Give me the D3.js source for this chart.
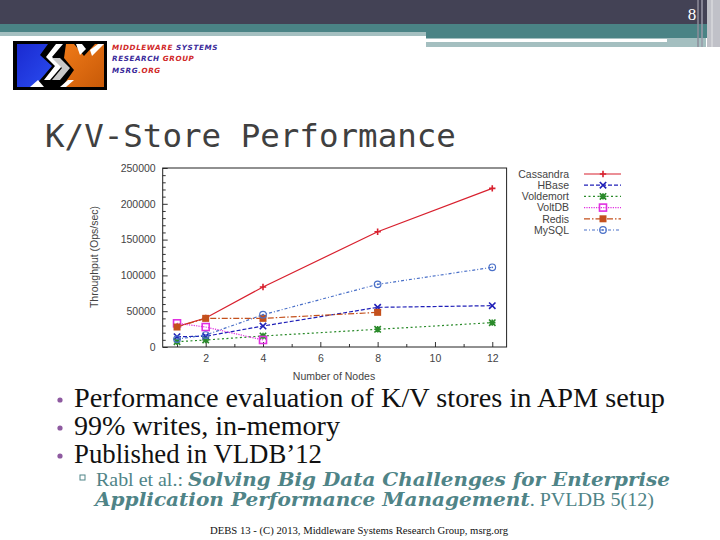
<!DOCTYPE html>
<html><head><meta charset="utf-8">
<script src="https://cdn.jsdelivr.net/npm/d3@7"></script>
<style>body{margin:0;background:#fff}svg{display:block}</style>
</head><body>
<script>
// ---- data ----
const nodes = [1, 2, 4, 8, 12];
const cassandra = [28400, 40500, 83800, 161000, 221600];
const hbase = [14400, 15000, 29300, 55400, 57700];
const voldemort = [7400, 9800, 15400, 24700, 34000];
const voltdb = [33100, 27900, 9800];
const redis = [27900, 40000, 40000, 48400];
const mysql = [11000, 16700, 45100, 87500, 111300];
const seriesNames = ["Cassandra", "HBase", "Voldemort", "VoltDB", "Redis", "MySQL"];
const xTicks = [2, 4, 6, 8, 10, 12];
const xMinor = [1, 3, 5, 7, 9, 11];
const yTicks = [0, 50000, 100000, 150000, 200000, 250000];

const W = 720, H = 540;
const svg = d3.select("body").append("svg").attr("width", W).attr("height", H);

// ---- slide decoration ----
svg.append("rect").attr("x",0).attr("y",0).attr("width",W).attr("height",24).attr("fill","#434255");
svg.append("rect").attr("x",0).attr("y",24).attr("width",W).attr("height",8).attr("fill","#4a8385");
svg.append("rect").attr("x",0).attr("y",32).attr("width",426).attr("height",4).attr("fill","#a4bfc0");
svg.append("rect").attr("x",426).attr("y",32).attr("width",294).attr("height",6).attr("fill","#4a8385");
svg.append("rect").attr("x",426).attr("y",38).attr("width",280).attr("height",9).attr("fill","#a4bfc0");
svg.append("rect").attr("x",426).attr("y",39).attr("width",241).attr("height",3).attr("fill","#ffffff");
svg.append("rect").attr("x",707).attr("y",0).attr("width",13).attr("height",47).attr("fill","#c0c1c8");
[[698,"#8c8c9a"],[702,"#9a9aa8"],[712,"#d8d8dc"]].forEach(([x,c])=>{
  svg.append("line").attr("x1",x).attr("x2",x).attr("y1",0).attr("y2",47).attr("stroke",c).attr("stroke-width",1.5);
});
svg.append("text").attr("x",692).attr("y",20).attr("text-anchor","middle")
  .attr("font-family","Liberation Serif").attr("font-size",17).attr("fill","#ffffff").text("8");

// ---- logo ----
const defs = svg.append("defs");
const gb = defs.append("linearGradient").attr("id","gb").attr("x1","0").attr("x2","1").attr("y1","0").attr("y2","1");
gb.append("stop").attr("offset","0").attr("stop-color","#1a2ad0");
gb.append("stop").attr("offset","1").attr("stop-color","#2a4cf0");
const go = defs.append("linearGradient").attr("id","go").attr("x1","0").attr("x2","1").attr("y1","0").attr("y2","1");
go.append("stop").attr("offset","0").attr("stop-color","#f07a18");
go.append("stop").attr("offset","1").attr("stop-color","#c85a08");
const lg = svg.append("g");
lg.append("rect").attr("x",13).attr("y",41).attr("width",94).attr("height",49).attr("fill","#000");
lg.append("polygon").attr("points","17,44 48,44 40,55 52,66 40,80 33,87 17,87").attr("fill","url(#gb)");
lg.append("polygon").attr("points","56,44 63,44 52,57 62,66 50,80 44,80 55,66 46,57").attr("fill","#fff");
lg.append("polygon").attr("points","30,87 38,80 44,87").attr("fill","#fff");
lg.append("polygon").attr("points","52,58 60,58 70,68 60,80 52,80 62,68").attr("fill","#c8c8c8");
lg.append("polygon").attr("points","66,44 74,44 84,56 95,44 104,44 104,87 62,87 74,70 64,58").attr("fill","url(#go)");
lg.append("polygon").attr("points","76,44 82,44 86,49 80,55").attr("fill","#fff");
lg.append("polygon").attr("points","90,50 98,44 104,44 92,56").attr("fill","#fff");
lg.append("polygon").attr("points","60,87 68,80 74,80 66,87").attr("fill","#fff");
const logoLines = [
  [["MIDDLEWARE ","#d02828"],["SYSTEMS","#3a2a9a"]],
  [["RESEARCH ","#3a2a9a"],["GROUP","#d02828"]],
  [["MSRG","#3a2a9a"],[".ORG","#d02828"]]
];
logoLines.forEach((parts,i)=>{
  const t = svg.append("text").attr("x",112).attr("y",50+i*11.3)
    .attr("font-family","DejaVu Sans").attr("font-size",7.2).attr("font-weight","bold")
    .attr("font-style","italic").attr("letter-spacing",0.6);
  parts.forEach(([s,c])=>t.append("tspan").attr("fill",c).text(s));
});

// ---- title ----
svg.append("text").attr("x",45).attr("y",147).attr("font-family","DejaVu Sans Mono")
  .attr("font-size",32.5).attr("fill","#404040").text("K/V-Store Performance");

// ---- chart ----
const x = d3.scaleLinear().domain([0.5, 12.5]).range([162.7, 506.6]);
const y = d3.scaleLinear().domain([0, 250000]).range([347, 168]);
const chartFont = "Liberation Sans";

const gx = svg.append("g").attr("transform",`translate(0,${y(0)})`)
  .call(d3.axisBottom(x).tickValues(xTicks).tickSize(-5).tickSizeOuter(0).tickPadding(8).tickFormat(d3.format("d")));
const gxm = svg.append("g").attr("transform",`translate(0,${y(0)})`)
  .call(d3.axisBottom(x).tickValues(xMinor).tickSize(-3).tickSizeOuter(0).tickFormat(""));
const gy = svg.append("g").attr("transform",`translate(${x(0.5)},0)`)
  .call(d3.axisLeft(y).tickValues(yTicks).tickSize(-5).tickSizeOuter(0).tickPadding(7).tickFormat(d3.format("d")));
const gym = svg.append("g").attr("transform",`translate(${x(0.5)},0)`)
  .call(d3.axisLeft(y).tickValues(d3.range(10000, 250000, 10000).filter(v=>v%50000)).tickSize(-3).tickSizeOuter(0).tickFormat(""));
[gx,gxm,gy,gym].forEach(g=>{
  g.select(".domain").remove();
  g.selectAll("line").attr("stroke","#333");
  g.selectAll("text").attr("font-family",chartFont).attr("font-size",10.5).attr("fill","#444");
});
svg.append("rect").attr("x",x(0.5)).attr("y",y(250000)).attr("width",x(12.5)-x(0.5)).attr("height",y(0)-y(250000))
  .attr("fill","none").attr("stroke","#222").attr("stroke-width",1);

svg.append("text").attr("x",334).attr("y",380).attr("text-anchor","middle")
  .attr("font-family",chartFont).attr("font-size",10.5).attr("fill","#444").text("Number of Nodes");
svg.append("text").attr("transform","translate(98,257) rotate(-90)").attr("text-anchor","middle")
  .attr("font-family",chartFont).attr("font-size",10.5).attr("fill","#444").text("Throughput (Ops/sec)");

const seriesValues = [cassandra, hbase, voldemort, voltdb, redis, mysql];
const colors = ["#d8202e", "#2020b8", "#2a8a2a", "#e030e0", "#c4501c", "#4a70c8"];
const dashes = [null, "4,2", "2,2.5", "1.2,1.2", "6,2,1.5,2", "3,2,1,2"];
const markers = ["plus", "cross", "star", "osquare", "fsquare", "ocircle"];

function drawMarker(g, type, cx, cy, c) {
  const s = 3.2;
  if (type === "plus") {
    g.append("path").attr("d",`M${cx-s},${cy}H${cx+s}M${cx},${cy-s}V${cy+s}`).attr("stroke",c).attr("stroke-width",1.6).attr("fill","none");
  } else if (type === "cross") {
    g.append("path").attr("d",`M${cx-s},${cy-s}L${cx+s},${cy+s}M${cx-s},${cy+s}L${cx+s},${cy-s}`).attr("stroke",c).attr("stroke-width",1.6).attr("fill","none");
  } else if (type === "star") {
    g.append("path").attr("d",`M${cx-s},${cy}H${cx+s}M${cx},${cy-s}V${cy+s}M${cx-s},${cy-s}L${cx+s},${cy+s}M${cx-s},${cy+s}L${cx+s},${cy-s}`).attr("stroke",c).attr("stroke-width",1.6).attr("fill","none");
  } else if (type === "osquare") {
    g.append("rect").attr("x",cx-3.5).attr("y",cy-3.5).attr("width",7).attr("height",7).attr("fill","none").attr("stroke",c).attr("stroke-width",1.6);
  } else if (type === "fsquare") {
    g.append("rect").attr("x",cx-3.5).attr("y",cy-3.5).attr("width",7).attr("height",7).attr("fill",c);
  } else if (type === "ocircle") {
    g.append("circle").attr("cx",cx).attr("cy",cy).attr("r",3.3).attr("fill","none").attr("stroke",c).attr("stroke-width",1.2);
    g.append("circle").attr("cx",cx).attr("cy",cy).attr("r",0.9).attr("fill",c);
  }
}

const line = d3.line().x(d=>x(d[0])).y(d=>y(d[1]));
const plotG = svg.append("g");
seriesNames.forEach((name, i) => {
  const pts = seriesValues[i].map((v, j) => [nodes[j], v]);
  plotG.append("path").attr("d", line(pts)).attr("fill","none").attr("stroke",colors[i])
    .attr("stroke-width",1.2).attr("stroke-dasharray",dashes[i]);
  pts.forEach(p => drawMarker(plotG, markers[i], x(p[0]), y(p[1]), colors[i]));
});

// legend
seriesNames.forEach((name, i) => {
  const ly = 174 + i * 11.2;
  svg.append("text").attr("x",569).attr("y",ly+3.8).attr("text-anchor","end")
    .attr("font-family",chartFont).attr("font-size",10.5).attr("fill","#444").text(name);
  svg.append("line").attr("x1",584).attr("x2",621).attr("y1",ly).attr("y2",ly)
    .attr("stroke",colors[i]).attr("stroke-width",1.2).attr("stroke-dasharray",dashes[i]);
  drawMarker(svg, markers[i], 603, ly, colors[i]);
});

// ---- bullets ----
const bullets = ["Performance evaluation of K/V stores in APM setup", "99% writes, in-memory", "Published in VLDB\u201912"];
const bulletLen = [591, 266, 248];
bullets.forEach((b, i) => {
  const by = 407 + i * 28;
  svg.append("circle").attr("cx",60).attr("cy",by-7).attr("r",2.6).attr("fill","#8e5aa0");
  svg.append("text").attr("x",74).attr("y",by).attr("font-family","Liberation Serif")
    .attr("font-size",27).attr("fill","#111").attr("textLength",bulletLen[i]).attr("lengthAdjust","spacingAndGlyphs").text(b);
});
const teal = "#4f8487";
svg.append("rect").attr("x",80).attr("y",475).attr("width",5).attr("height",5).attr("fill","none").attr("stroke",teal).attr("stroke-width",1);
const s1 = svg.append("text").attr("x",96).attr("y",486).attr("font-family","Liberation Serif").attr("font-size",18.5).attr("fill",teal)
  .attr("textLength",574).attr("lengthAdjust","spacingAndGlyphs");
s1.append("tspan").text("Rabl et al.: ");
s1.append("tspan").attr("font-family","DejaVu Serif").attr("font-weight","bold").attr("font-style","italic").text("Solving Big Data Challenges for Enterprise");
const s2 = svg.append("text").attr("x",95).attr("y",506).attr("font-family","Liberation Serif").attr("font-size",18.5).attr("fill",teal)
  .attr("textLength",559).attr("lengthAdjust","spacingAndGlyphs");
s2.append("tspan").attr("font-family","DejaVu Serif").attr("font-weight","bold").attr("font-style","italic").text("Application Performance Management");
s2.append("tspan").text(". PVLDB 5(12)");

// footer
svg.append("text").attr("x",359).attr("y",534).attr("text-anchor","middle").attr("font-family","Liberation Serif")
  .attr("font-size",10.5).attr("fill","#111").attr("textLength",298).attr("lengthAdjust","spacingAndGlyphs")
  .text("DEBS 13 - (C) 2013, Middleware Systems Research Group, msrg.org");
</script>
</body></html>
